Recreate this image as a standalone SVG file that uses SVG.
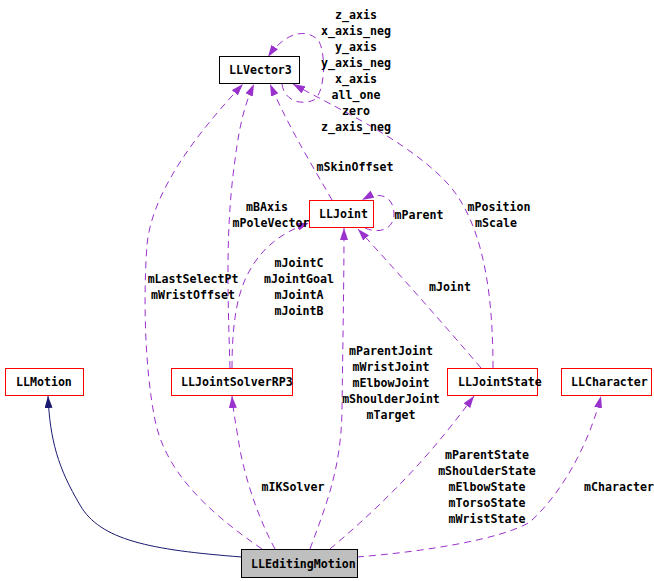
<svg xmlns="http://www.w3.org/2000/svg" width="654" height="581" viewBox="0 0 654 581">
<style>
text{font-family:"DejaVu Sans Mono","Liberation Mono",monospace;font-size:11.6px;font-weight:bold;fill:#000}
.lbl{text-anchor:middle}
.node rect{fill:#fff;stroke-width:1}
.red{stroke:#ff0000}
.blk{stroke:#000}
.e{fill:none;stroke:#9a32cd;stroke-width:1;stroke-dasharray:7,5}
.inh{fill:none;stroke:#191970;stroke-width:1}
</style>
<defs>
<marker id="ap" viewBox="0 0 12 8" refX="12" refY="4" markerWidth="12" markerHeight="8" markerUnits="userSpaceOnUse" orient="auto">
<path d="M0,0 L12,4 L0,8 z" fill="#9a32cd" stroke="none"/>
</marker>
<marker id="an" viewBox="0 0 12 8" refX="12" refY="4" markerWidth="12" markerHeight="8" markerUnits="userSpaceOnUse" orient="auto">
<path d="M0,0 L12,4 L0,8 z" fill="#191970" stroke="none"/>
</marker>
</defs>
<rect width="654" height="581" fill="#fff"/>
<g id="edges">
<path class="inh" d="M242,557 C150,550 100,540 80,505 C58,468 50,440 48,396" marker-end="url(#an)"/>
<path class="e" d="M262,549 C205,510 165,470 155,420 C145,370 143,300 147,245 C152,190 200,130 243,84" marker-end="url(#ap)"/>
<path class="e" d="M275,549 C262,525 248,490 240,450 C236,425 233,410 232,396" marker-end="url(#ap)"/>
<path class="e" d="M310,549 C326,505 341,470 342,410 C343,330 344,280 344,228" marker-end="url(#ap)"/>
<path class="e" d="M330,549 C370,515 420,470 474,396" marker-end="url(#ap)"/>
<path class="e" d="M357,557 C420,552 500,540 530,522 C565,490 590,440 601,396" marker-end="url(#ap)"/>
<path class="e" d="M230,368 C228,300 225,230 235,160 C240,120 246,102 254,84" marker-end="url(#ap)"/>
<path class="e" d="M232,368 C232,320 238,290 250,270 C262,248 282,232 309,223" marker-end="url(#ap)"/>
<path class="e" d="M332,200 C315,170 290,130 270,84" marker-end="url(#ap)"/>
<path class="e" d="M493,368 C493,300 485,240 460,200 C430,150 330,105 293,84" marker-end="url(#ap)"/>
<path class="e" d="M481,368 C440,320 400,275 358,229" marker-end="url(#ap)"/>
<path class="e" d="M365,228 C378,234 394,230 394,214 C394,197 380,190 362,200" marker-end="url(#ap)"/>
<path class="e" d="M282,84 C284,100 300,106 314,100 C326,92 326,50 318,40 C306,28 285,32 268,57" marker-end="url(#ap)"/>
</g>
<g id="edge-labels">
<text class="lbl" x="356" y="19">z_axis</text>
<text class="lbl" x="356" y="35">x_axis_neg</text>
<text class="lbl" x="356" y="51">y_axis</text>
<text class="lbl" x="356" y="67">y_axis_neg</text>
<text class="lbl" x="356" y="83">x_axis</text>
<text class="lbl" x="356" y="99">all_one</text>
<text class="lbl" x="356" y="115">zero</text>
<text class="lbl" x="356" y="131">z_axis_neg</text>
<text class="lbl" x="355" y="171">mSkinOffset</text>
<text class="lbl" x="267" y="211">mBAxis</text>
<text class="lbl" x="271" y="227">mPoleVector</text>
<text class="lbl" x="419" y="219">mParent</text>
<text class="lbl" x="499" y="211">mPosition</text>
<text class="lbl" x="496" y="227">mScale</text>
<text class="lbl" x="299" y="267">mJointC</text>
<text class="lbl" x="299" y="283">mJointGoal</text>
<text class="lbl" x="299" y="299">mJointA</text>
<text class="lbl" x="299" y="315">mJointB</text>
<text class="lbl" x="193" y="283">mLastSelectPt</text>
<text class="lbl" x="193" y="299">mWristOffset</text>
<text class="lbl" x="450" y="291">mJoint</text>
<text class="lbl" x="391" y="355">mParentJoint</text>
<text class="lbl" x="391" y="371">mWristJoint</text>
<text class="lbl" x="391" y="387">mElbowJoint</text>
<text class="lbl" x="391" y="403">mShoulderJoint</text>
<text class="lbl" x="391" y="419">mTarget</text>
<text class="lbl" x="293" y="491">mIKSolver</text>
<text class="lbl" x="487" y="459">mParentState</text>
<text class="lbl" x="487" y="475">mShoulderState</text>
<text class="lbl" x="487" y="491">mElbowState</text>
<text class="lbl" x="487" y="507">mTorsoState</text>
<text class="lbl" x="487" y="523">mWristState</text>
<text class="lbl" x="619" y="491">mCharacter</text>
</g>
<g id="LLVector3" class="node"><rect class="blk" x="219.5" y="56.5" width="80" height="27"/><text x="229" y="74">LLVector3</text></g>
<g id="LLJoint" class="node"><rect class="red" x="309.5" y="200.5" width="64" height="27"/><text x="319" y="218">LLJoint</text></g>
<g id="LLMotion" class="node"><rect class="red" x="5.5" y="368.5" width="78" height="27"/><text x="16" y="386">LLMotion</text></g>
<g id="LLJointSolverRP3" class="node"><rect class="red" x="171.5" y="368.5" width="121" height="27"/><text x="181" y="386">LLJointSolverRP3</text></g>
<g id="LLJointState" class="node"><rect class="red" x="447.5" y="368.5" width="90" height="27"/><text x="458" y="386">LLJointState</text></g>
<g id="LLCharacter" class="node"><rect class="red" x="561.5" y="368.5" width="90" height="27"/><text x="571" y="386">LLCharacter</text></g>
<g id="LLEditingMotion" class="node"><rect class="blk" x="241.5" y="549.5" width="116" height="28" style="fill:#bfbfbf"/><text x="251" y="568">LLEditingMotion</text></g>
</svg>
